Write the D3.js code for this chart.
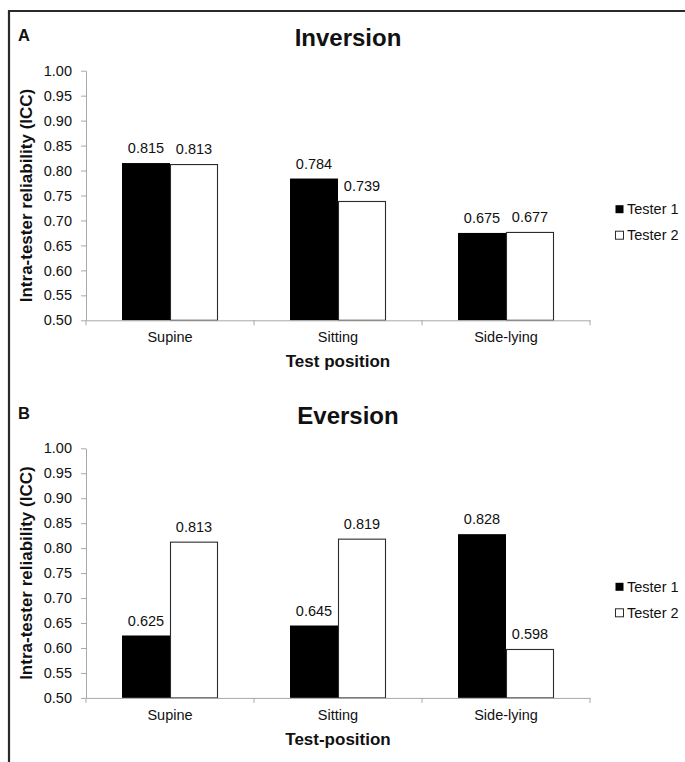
<!DOCTYPE html>
<html>
<head>
<meta charset="utf-8">
<script src="https://cdn.jsdelivr.net/npm/d3@7"></script>
<style>
  html, body { margin: 0; padding: 0; background: #fff; }
  svg { display: block; }
  text { font-family: "Liberation Sans", Arial, Helvetica, sans-serif; fill: #111; }
</style>
</head>
<body>
<svg id="chart" width="685" height="762"></svg>
<script>
// Test positions on the x axis
const positions = ["Supine", "Sitting", "Side-lying"];
const testers = ["Tester 1", "Tester 2"];

// Intra-tester reliability (ICC), inversion
const inversionTester1 = [0.815, 0.784, 0.675];
const inversionTester2 = [0.813, 0.739, 0.677];

// Intra-tester reliability (ICC), eversion
const eversionTester1 = [0.625, 0.645, 0.828];
const eversionTester2 = [0.813, 0.819, 0.598];

// y-axis tick values
const yTicks = [0.50, 0.55, 0.60, 0.65, 0.70, 0.75, 0.80, 0.85, 0.90, 0.95, 1.00];

const panels = [
  { letter: "A", title: "Inversion", xTitle: "Test position", t1: inversionTester1, t2: inversionTester2, top: 70.7 },
  { letter: "B", title: "Eversion", xTitle: "Test-position", t1: eversionTester1, t2: eversionTester2, top: 448.3 }
];

const svg = d3.select("#chart");
const axisColor = "#a8a8a8";
const fills = { "Tester 1": "#000", "Tester 2": "#fff" };

// frame around the figure
svg.append("path")
  .attr("d", "M9,762 V11 H685")
  .attr("fill", "none")
  .attr("stroke", "#2a2a2a")
  .attr("stroke-width", 2.2);

const plotLeft = 86, plotRight = 590, plotH = 249.6;

panels.forEach(p => {
  const top = p.top, bottom = top + plotH;
  const g = svg.append("g");

  const x = d3.scaleBand().domain(positions).range([plotLeft, plotRight]).padding(0);
  const xs = d3.scaleBand().domain(testers).range([0, x.bandwidth()]).paddingInner(0).paddingOuter(0.75);
  const y = d3.scaleLinear().domain([0.5, 1.0]).range([bottom, top]);

  // panel letter and title
  g.append("text").attr("x", 18).attr("y", top - 29.3)
    .attr("font-size", 16.5).attr("font-weight", "bold").text(p.letter);
  g.append("text").attr("x", 348).attr("y", top - 24.7)
    .attr("text-anchor", "middle").attr("font-size", 24).attr("font-weight", "bold").text(p.title);

  // y axis
  const yAxis = g.append("g").attr("transform", `translate(${plotLeft},0)`)
    .call(d3.axisLeft(y).tickValues(yTicks).tickFormat(d3.format(".2f"))
      .tickSize(5).tickSizeOuter(0).tickPadding(9));
  yAxis.select(".domain").attr("stroke", axisColor);
  yAxis.selectAll(".tick line").attr("stroke", axisColor);
  yAxis.selectAll(".tick text").attr("font-size", 14.5).attr("fill", "#1a1a1a")
    .attr("font-family", "'Liberation Sans', Arial, sans-serif");

  // y axis title
  g.append("text")
    .attr("transform", `translate(32,${(top + bottom) / 2}) rotate(-90)`)
    .attr("text-anchor", "middle").attr("font-size", 17).attr("font-weight", "bold")
    .text("Intra-tester reliability (ICC)");

  // bars
  const rows = positions.map((pos, i) => ({ pos, vals: [ { k: "Tester 1", v: p.t1[i] }, { k: "Tester 2", v: p.t2[i] } ] }));
  const grp = g.selectAll(".grp").data(rows).join("g")
    .attr("transform", d => `translate(${x(d.pos)},0)`);
  grp.selectAll("rect").data(d => d.vals).join("rect")
    .attr("x", d => xs(d.k) + (d.k === "Tester 2" ? 0.5 : 0))
    .attr("y", d => y(d.v) + (d.k === "Tester 2" ? 0.5 : 0))
    .attr("width", d => xs.bandwidth() - (d.k === "Tester 2" ? 1 : 0))
    .attr("height", d => y(0.5) - y(d.v) - (d.k === "Tester 2" ? 0.5 : 0))
    .attr("fill", d => fills[d.k])
    .attr("stroke", d => d.k === "Tester 2" ? "#2b2b2b" : "none")
    .attr("stroke-width", 1.1);
  grp.selectAll("text").data(d => d.vals).join("text")
    .attr("x", d => xs(d.k) + xs.bandwidth() / 2)
    .attr("y", d => y(d.v) - 10)
    .attr("text-anchor", "middle").attr("font-size", 14.5)
    .text(d => d.v.toFixed(3));

  // x axis: labels centred on each position, ticks between positions
  const xAxis = g.append("g").attr("transform", `translate(0,${bottom})`)
    .call(d3.axisBottom(x).tickSize(0).tickPadding(11.5).tickSizeOuter(0));
  xAxis.select(".domain").attr("stroke", axisColor);
  xAxis.selectAll(".tick text").attr("font-size", 14.5).attr("fill", "#1a1a1a")
    .attr("font-family", "'Liberation Sans', Arial, sans-serif");
  const bounds = positions.map(d => x(d)).concat([x(positions[positions.length - 1]) + x.bandwidth()]);
  xAxis.selectAll(".bound").data(bounds).join("line")
    .attr("x1", d => d).attr("x2", d => d).attr("y1", 0).attr("y2", 5)
    .attr("stroke", axisColor);

  // x axis title
  g.append("text").attr("x", (plotLeft + plotRight) / 2).attr("y", bottom + 47)
    .attr("text-anchor", "middle").attr("font-size", 17).attr("font-weight", "bold")
    .text(p.xTitle);

  // legend
  const leg = g.selectAll(".leg").data(testers).join("g")
    .attr("transform", (d, i) => `translate(615,${top + 138.5 + i * 26})`);
  leg.append("rect").attr("x", 0.5).attr("y", -4).attr("width", 8).attr("height", 8)
    .attr("fill", d => fills[d]).attr("stroke", d => d === "Tester 2" ? "#2b2b2b" : "none");
  leg.append("text").attr("x", 12).attr("y", 0).attr("dy", "0.35em")
    .attr("font-size", 14.5).text(d => d);
});
</script>
</body>
</html>
